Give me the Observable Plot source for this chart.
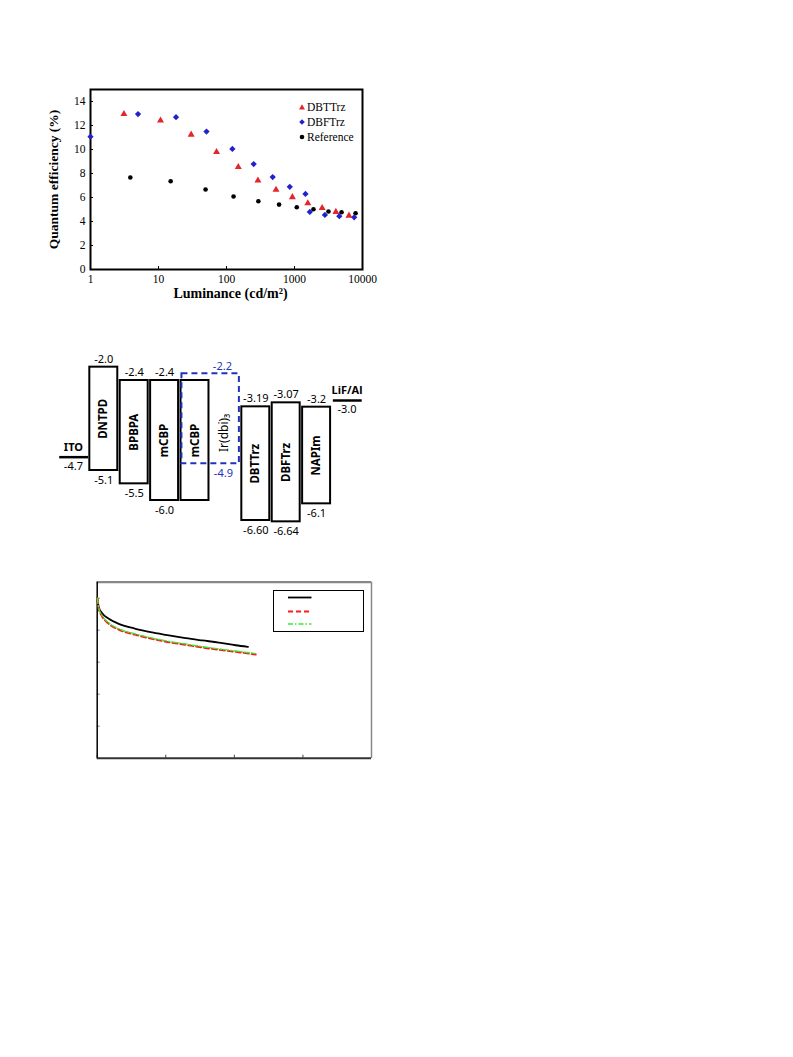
<!DOCTYPE html>
<html>
<head>
<meta charset="utf-8">
<script src="https://cdn.jsdelivr.net/npm/d3@7"></script>
<script src="https://cdn.jsdelivr.net/npm/@observablehq/plot@0.6"></script>
<style>
  body { margin: 0; background: #fff; width: 793px; height: 1057px; position: relative; overflow: hidden; }
  .fig { position: absolute; left: 0; }
  .fig svg { overflow: visible; }
  .leg1 { position: absolute; font-family: 'Liberation Serif', 'Times New Roman', serif; font-size: 11.5px; color: #000; }
  .leg1 .row { position: absolute; left: 0; white-space: nowrap; height: 14px; line-height: 14px; }
  .leg1 svg { position: absolute; left: 0; top: 3px; }
  .leg1 span { position: absolute; left: 9px; top: 0; }
  .leg3 { position: absolute; left: 273px; top: 590px; width: 89px; height: 40px; border: 1px solid #000; }
  .leg3 svg { position: absolute; left: 0; top: 0; }
</style>
</head>
<body>
<div id="fig1" class="fig" style="top:80px"></div>
<div id="leg1" class="leg1" style="left:298px; top:100px"></div>
<div id="fig2" class="fig" style="top:330px"></div>
<div id="fig3" class="fig" style="top:570px"></div>
<div id="leg3" class="leg3"></div>
<script>
// ---------- Figure 1: EQE vs luminance ----------
const dbttLum = [3.1, 10.7, 30.2, 71.4, 149, 290, 535, 930, 1570, 2550, 4060, 6320];
const dbttEQE = [12.95, 12.41, 11.24, 9.79, 8.54, 7.42, 6.64, 6.03, 5.52, 5.13, 4.80, 4.49];
const dbftLum = [1, 5.0, 18.1, 50.8, 122, 251, 478, 852, 1450, 1680, 2800, 4560, 7550];
const dbftEQE = [11.07, 12.95, 12.69, 11.49, 10.05, 8.79, 7.70, 6.89, 6.30, 4.80, 4.55, 4.44, 4.35];
const refLum = [3.85, 15.1, 49.2, 127, 294, 593, 1080, 1900, 3160, 4920, 7910];
const refEQE = [7.67, 7.36, 6.67, 6.08, 5.69, 5.41, 5.19, 5.02, 4.83, 4.77, 4.69];
const seriesNames = ["DBTTrz", "DBFTrz", "Reference"];
const seriesColors = ["#e3262b", "#2222cc", "#000000"];
const xTicks1 = [1, 10, 100, 1000, 10000];
const yTicks1 = [0, 2, 4, 6, 8, 10, 12, 14];
const xTitle1 = "Luminance (cd/m\u00B2)";
const yTitle1 = "Quantum efficiency (%)";

// ---------- Figure 2: energy level diagram ----------
const layerNames = ["DNTPD", "BPBPA", "mCBP", "mCBP", "DBTTrz", "DBFTrz", "NAPIm"];
const layerSlot = [1, 2, 3, 4, 6, 7, 8];
const layerLUMO = [-2.0, -2.4, -2.4, -2.4, -3.19, -3.07, -3.2];
const layerHOMO = [-5.1, -5.5, -6.0, -6.0, -6.60, -6.64, -6.1];
const lumoLabels = ["-2.0", "-2.4", "-2.4", "", "-3.19", "-3.07", "-3.2"];
const homoLabels = ["-5.1", "-5.5", "-6.0", "", "-6.60", "-6.64", "-6.1"];
const electrodeNames = ["ITO", "LiF/Al"];
const electrodeSlot = [0, 9];
const electrodeLevel = [-4.7, -3.0];
const electrodeLabels = ["-4.7", "-3.0"];
const dopantName = "Ir(dbi)\u2083";
const dopantSlots = [4, 5];
const dopantLUMO = -2.2;
const dopantHOMO = -4.9;
const dopantLabels = ["-2.2", "-4.9"];

// ---------- Figure 3: lifetime curves ----------
const lifeTime = [0, 2.3, 7.3, 16.9, 31.5, 55.9, 80.3, 104.5, 128.9, 153.3, 177.5, 201.9];
const blackVals = [100, 94.4, 90.6, 87.1, 84.0, 80.9, 78.6, 76.7, 75.0, 73.6, 72.3, 70.6];
const redVals = [100, 93.4, 88.6, 84.0, 80.4, 77.1, 74.6, 72.5, 70.9, 69.2, 67.8, 66.5];
const greenVals = [100, 93.8, 89.1, 84.6, 80.9, 77.6, 75.1, 73.0, 71.4, 69.7, 68.3, 67.0];
const blackEnd = [219.9, 69.6];
const redEnd = [231.1, 64.8];
const greenEnd = [231.1, 65.4];
const xTicks3 = [0, 100, 200, 300, 400];
const yTicks3 = [0, 20, 40, 60, 80, 100];

const serif = "'Liberation Serif', 'Times New Roman', serif";
const sans = "'Noto Sans', 'Open Sans', 'DejaVu Sans', sans-serif";

function rows(xs, ys) { return xs.map((x, i) => ({x, y: ys[i]})); }

const rhombus = {
  draw(ctx, size) {
    const r = Math.sqrt(size / 2);
    ctx.moveTo(0, -r); ctx.lineTo(r, 0); ctx.lineTo(0, r); ctx.lineTo(-r, 0); ctx.closePath();
  }
};

// ===== Figure 1 =====
const fig1 = Plot.plot({
  width: 400, height: 230,
  marginLeft: 90, marginRight: 38, marginTop: 9, marginBottom: 41,
  style: {fontFamily: serif, fontSize: "11.5px", color: "#000", background: "transparent", overflow: "visible"},
  x: {type: "log", domain: [1, 10000]},
  y: {domain: [0, 15]},
  marks: [
    Plot.axisY({ticks: yTicks1, tickSize: 0, tickPadding: 5, label: null, tickFormat: d3.format("d")}),
    Plot.axisY({ticks: yTicks1, tickSize: 3, dx: 3, label: null, tickFormat: () => ""}),
    Plot.axisX({ticks: xTicks1, tickSize: 0, tickPadding: 5, label: null, tickFormat: d3.format("d")}),
    Plot.axisX({ticks: xTicks1, tickSize: 3, dy: -3, label: null, tickFormat: () => ""}),
    Plot.frame({stroke: "#000", strokeWidth: 2}),
    Plot.dot(rows(refLum, refEQE), {x: "x", y: "y", r: 2.3, fill: seriesColors[2], symbol: "circle"}),
    Plot.dot(rows(dbttLum, dbttEQE), {x: "x", y: "y", r: 2.6, fill: seriesColors[0], symbol: "triangle"}),
    Plot.dot(rows(dbftLum, dbftEQE), {x: "x", y: "y", r: 2.5, fill: seriesColors[1], symbol: rhombus}),
    Plot.text([yTitle1], {frameAnchor: "left", dx: -37, rotate: -90, textAnchor: "middle", lineAnchor: "middle", fontWeight: "bold", fontSize: 13.5, fontFamily: serif}),
    Plot.text([xTitle1], {frameAnchor: "bottom", dx: 4, dy: 24, textAnchor: "middle", lineAnchor: "middle", fontWeight: "bold", fontSize: 14, fontFamily: serif})
  ]
});
document.getElementById("fig1").appendChild(fig1);

// legend 1
const leg1 = document.getElementById("leg1");
const shapes = [
  '<svg width="8" height="8"><polygon points="4,1.2 7,6.6 1,6.6" fill="' + seriesColors[0] + '"/></svg>',
  '<svg width="8" height="8"><polygon points="4,1.2 6.8,4 4,6.8 1.2,4" fill="' + seriesColors[1] + '"/></svg>',
  '<svg width="8" height="8"><circle cx="4" cy="4" r="2.3" fill="' + seriesColors[2] + '"/></svg>'
];
seriesNames.forEach((name, i) => {
  const row = document.createElement("div");
  row.className = "row";
  row.style.top = (i * 15) + "px";
  row.innerHTML = shapes[i] + "<span>" + name + "</span>";
  leg1.appendChild(row);
});

// ===== Figure 2 =====
const layerIdx = layerNames.map((_, i) => i);
const elecIdx = electrodeNames.map((_, i) => i);
const half = 0.46;
const fig2 = Plot.plot({
  width: 400, height: 220,
  marginLeft: 42.5, marginRight: 23.1, marginTop: 20, marginBottom: 0,
  style: {fontFamily: sans, fontSize: "11px", color: "#000", background: "transparent", overflow: "visible"},
  x: {domain: [-1, 10], axis: null},
  y: {domain: [-7.5, -1.5], axis: null},
  marks: [
    Plot.rect(layerIdx, {
      x1: i => layerSlot[i] - half, x2: i => layerSlot[i] + half,
      y1: i => layerHOMO[i], y2: i => layerLUMO[i],
      fill: "#fff", stroke: "#000", strokeWidth: 2
    }),
    Plot.rect([0], {
      x1: () => dopantSlots[0] - half + 0.03, x2: () => dopantSlots[1] + half,
      y1: () => dopantHOMO, y2: () => dopantLUMO,
      fill: "none", stroke: "#2233bb", strokeWidth: 2, strokeDasharray: "6,4"
    }),
    Plot.ruleY(elecIdx, {
      y: i => electrodeLevel[i],
      x1: i => electrodeSlot[i] - 0.45, x2: i => electrodeSlot[i] + 0.5,
      stroke: "#000", strokeWidth: 2.5
    }),
    // layer names
    Plot.text(layerIdx, {
      x: i => layerSlot[i], y: i => (layerLUMO[i] + layerHOMO[i]) / 2,
      text: i => layerNames[i], rotate: -90, fontWeight: "bold", fontSize: 11.5
    }),
    // LUMO / HOMO labels
    Plot.text(layerIdx, {
      x: i => layerSlot[i], y: i => layerLUMO[i], dy: -8,
      text: i => lumoLabels[i]
    }),
    Plot.text(layerIdx, {
      x: i => layerSlot[i], y: i => layerHOMO[i], dy: 10,
      text: i => homoLabels[i]
    }),
    // dopant labels
    Plot.text([0], {
      x: () => dopantSlots[1], y: () => (dopantLUMO + dopantHOMO) / 2, dx: -1, dy: 14,
      text: () => dopantName, rotate: -90, fontSize: 12
    }),
    Plot.text([dopantLUMO], {
      x: () => dopantSlots[1], y: d => d, dx: -3, dy: -7,
      text: () => dopantLabels[0], fill: "#2233bb"
    }),
    Plot.text([dopantHOMO], {
      x: () => dopantSlots[1], y: d => d, dx: -2, dy: 10,
      text: () => dopantLabels[1], fill: "#2233bb"
    }),
    // electrodes labels
    Plot.text(elecIdx, {
      x: i => electrodeSlot[i], y: i => electrodeLevel[i], dy: -10,
      text: i => electrodeNames[i], fontWeight: "bold"
    }),
    Plot.text(elecIdx, {
      x: i => electrodeSlot[i], y: i => electrodeLevel[i], dy: 9,
      text: i => electrodeLabels[i]
    })
  ]
});
document.getElementById("fig2").appendChild(fig2);

// ===== Figure 3 =====
const blackData = rows(lifeTime.concat([blackEnd[0]]), blackVals.concat([blackEnd[1]]));
const redData = rows(lifeTime.concat([redEnd[0]]), redVals.concat([redEnd[1]]));
const greenData = rows(lifeTime.concat([greenEnd[0]]), greenVals.concat([greenEnd[1]]));
const fig3 = Plot.plot({
  width: 400, height: 200,
  marginLeft: 96.7, marginRight: 29, marginTop: 11.7, marginBottom: 12.3,
  style: {fontFamily: sans, fontSize: "10px", color: "#000", background: "transparent", overflow: "visible"},
  x: {domain: [0, 400]},
  y: {domain: [0, 110]},
  marks: [
    Plot.axisY({ticks: yTicks3, tickSize: 3, dx: 3, label: null, tickFormat: () => "", stroke: "#777"}),
    Plot.axisX({ticks: xTicks3, tickSize: 3, dy: -3, label: null, tickFormat: () => "", stroke: "#444"}),
    Plot.ruleY([110], {stroke: "#888", strokeWidth: 2.2}),
    Plot.ruleX([400], {stroke: "#888", strokeWidth: 1.5}),
    Plot.ruleY([0], {stroke: "#333", strokeWidth: 2}),
    Plot.ruleX([0], {stroke: "#000", strokeWidth: 1.5}),
    Plot.line(blackData, {x: "x", y: "y", stroke: "#000", strokeWidth: 1.8, curve: "monotone-x"}),
    Plot.line(redData, {x: "x", y: "y", stroke: "#ff1a1a", strokeWidth: 2, strokeDasharray: "5,3", curve: "monotone-x"}),
    Plot.line(greenData, {x: "x", y: "y", stroke: "#33ee33", strokeWidth: 1.3, strokeDasharray: "5,2,1.5,2", curve: "monotone-x"})
  ]
});
document.getElementById("fig3").appendChild(fig3);

// legend 3 (line samples, no text)
document.getElementById("leg3").innerHTML =
  '<svg width="89" height="40">' +
  '<line x1="14" x2="37.5" y1="6.5" y2="6.5" stroke="#000" stroke-width="1.8"/>' +
  '<line x1="14" x2="37.5" y1="20.5" y2="20.5" stroke="#ff1a1a" stroke-width="2" stroke-dasharray="5,3"/>' +
  '<line x1="14" x2="37.5" y1="33" y2="33" stroke="#33ee33" stroke-width="1.3" stroke-dasharray="5,2,1.5,2"/>' +
  '</svg>';
</script>
</body>
</html>
